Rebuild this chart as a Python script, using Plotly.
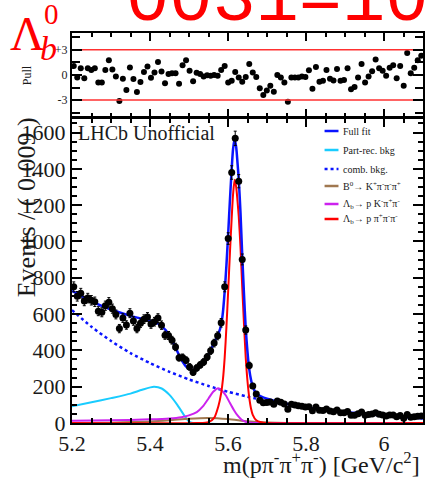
"""Lambda_b -> p pi pi pi mass fit with pull panel."""
import numpy as np
import plotly.graph_objects as go

# ---- data -------------------------------------------------------------
BIN_LO = 5.2
BIN_WIDTH = 0.009

counts = [750, 698, 715, 672, 688, 676, 668, 616, 610, 646,
          665, 630, 598, 520, 578, 540, 605, 562, 520, 550,
          572, 584, 545, 558, 578, 539, 483, 482, 456, 419,
          360, 361, 346, 309, 279, 303, 320, 336, 363, 398,
          440, 480, 552, 750, 1016, 1380, 1568, 1332, 901, 512,
          317, 204, 160, 126, 112, 113, 115, 103, 121, 114,
          104, 76, 103, 99, 95, 92, 88, 90, 68, 88,
          70, 69, 77, 66, 62, 71, 57, 56, 64, 43,
          43, 51, 60, 43, 47, 49, 56, 48, 44, 39,
          44, 44, 34, 41, 26, 47, 31, 34, 37, 39]

pulls = [1.05, -0.3, 0.8, -0.4, 0.8, 0.6, 0.8, -0.9, -0.9, 0.6,
         1.75, 0.65, -0.2, -3.1, -0.45, -1.8, 0.9, -0.5, -2.05, -0.85,
         0.35, 1.0, -0.35, 0.3, 1.55, 0.4, -1.0, 0.1, 0.2, 0.2,
         -1.05, 1.15, 1.75, 0.5, -0.75, 0.25, 0.1, -0.2, -0.05, -0.1,
         0.0, -0.1, 0.6, 1.05, -0.9, -0.7, 0.35, -0.3, -0.8, -0.25,
         1.3, 0.3, -0.25, -1.6, -2.4, -1.85, -1.3, -2.0, 0.0, -0.3,
         -0.9, -3.2, -0.3, -0.3, -0.3, -0.2, -0.25, 0.55, -1.65, 0.95,
         -0.8, -0.7, 0.6, -0.45, -0.65, 0.7, -0.7, -0.6, 0.8, -1.7,
         -1.45, -0.3, 1.3, -0.9, -0.2, 0.45, 1.85, 0.8, 0.5, -0.1,
         0.85, 1.15, -0.4, 1.05, -1.3, 2.6, 0.2, 0.85, 1.75, 2.3]

# fit components (sampled off the curves)
full_x = [5.2, 5.25, 5.3, 5.35, 5.4, 5.42, 5.44, 5.46, 5.48, 5.495, 5.51, 5.525,
          5.54, 5.555, 5.565, 5.575, 5.5825, 5.587, 5.5915, 5.596, 5.6005, 5.605,
          5.6095, 5.613, 5.617, 5.621, 5.6245, 5.6275, 5.632, 5.6365, 5.641,
          5.6455, 5.65, 5.6545, 5.659, 5.6635, 5.6725, 5.6815, 5.69, 5.7, 5.72,
          5.75, 5.8, 5.85, 5.9, 5.95, 6.0, 6.05, 6.1]
full_y = [728, 670, 625, 590, 563, 548, 512, 440, 350, 305, 292, 305,
          340, 398, 445, 490, 540, 610, 725, 870, 1045, 1230,
          1400, 1510, 1565, 1520, 1430, 1345, 1160, 925, 710,
          520, 390, 295, 238, 200, 163, 150, 141, 134, 122,
          106, 86, 72, 60, 50, 41, 33, 26]

comb_x = [5.2, 5.25, 5.3, 5.35, 5.4, 5.45, 5.5, 5.55, 5.6, 5.65, 5.7, 5.75,
          5.8, 5.85, 5.9, 5.95, 6.0, 6.05, 6.1]
comb_y = [622, 530, 452, 385, 330, 282, 240, 204, 172, 145, 122, 103,
          86, 72, 60, 50, 41, 33, 26]

partrec_x = [5.2, 5.25, 5.3, 5.35, 5.38, 5.41, 5.43, 5.45, 5.47, 5.49, 5.5, 5.51, 6.1]
partrec_y = [92, 114, 137, 162, 183, 199, 190, 155, 100, 35, 8, 0, 0]

b0_x = [5.2, 5.3, 5.4, 5.45, 5.5, 5.55, 5.6, 5.65, 5.7, 5.75, 6.1]
b0_y = [0, 2, 8, 15, 24, 28, 22, 10, 3, 0, 0]

pk_x = [5.2, 5.3, 5.4, 5.45, 5.48, 5.5, 5.52, 5.535, 5.55, 5.562, 5.575, 5.585,
        5.595, 5.605, 5.615, 5.625, 5.635, 5.645, 5.66, 5.7, 6.1]
pk_y = [12, 15, 20, 25, 32, 42, 60, 90, 135, 172, 192, 178,
        150, 110, 72, 40, 18, 7, 2, 0, 0]

sig_x = [5.2, 5.52, 5.55, 5.565, 5.575, 5.5825, 5.587, 5.5915, 5.596, 5.6005,
         5.605, 5.6095, 5.613, 5.617, 5.621, 5.6245, 5.6275, 5.632, 5.6365,
         5.641, 5.6455, 5.65, 5.6545, 5.659, 5.6635, 5.6725, 5.685, 5.7, 6.1]
sig_y = [0, 0, 5, 30, 90, 165, 240, 360, 530, 730,
         940, 1130, 1260, 1340, 1300, 1220, 1140, 970, 750,
         545, 360, 230, 140, 80, 45, 15, 4, 0, 0]

legend_labels = ['Full fit', 'Part-rec. bkg', 'comb. bkg.',
                 'B<sup>0</sup>\u2192 K<sup>+</sup>\u03c0<sup>-</sup>\u03c0<sup>-</sup>\u03c0<sup>+</sup>',
                 '\u039b<sub>b</sub>\u2192 p K<sup>-</sup>\u03c0<sup>+</sup>\u03c0<sup>-</sup>',
                 '\u039b<sub>b</sub>\u2192 p \u03c0<sup>+</sup>\u03c0<sup>-</sup>\u03c0<sup>-</sup>']

# ---- style ------------------------------------------------------------
BLUE = '#0a14ff'
CYAN = '#19ccff'
BROWN = '#a07850'
MAGENTA = '#cc22ee'
RED = '#ff0000'
SERIF = 'Liberation Serif, Times New Roman, serif'
TXT = '#1a1a1a'

W, H = 426, 479
L, R, T, B = 72, 1, 33, 56


def px(x):
    return (x - L) / (W - L - R)


def py(y):
    return (H - B - y) / (H - T - B)


centers = BIN_LO + BIN_WIDTH * (np.arange(len(counts)) + 0.5)
counts = np.array(counts)

fig = go.Figure()

curves = [
    (comb_x, comb_y, BLUE, 'dot', 2.5),
    (partrec_x, partrec_y, CYAN, 'solid', 2),
    (b0_x, b0_y, BROWN, 'solid', 2),
    (pk_x, pk_y, MAGENTA, 'solid', 2),
    (sig_x, sig_y, RED, 'solid', 2),
    (full_x, full_y, BLUE, 'solid', 2.5),
]
for cx, cy, col, dash, w in curves:
    fig.add_trace(go.Scatter(x=cx, y=cy, mode='lines',
                             line=dict(color=col, width=w, dash=dash, shape='spline', smoothing=0.7),
                             showlegend=False, hoverinfo='skip'))

fig.add_trace(go.Scatter(x=centers, y=counts, mode='markers',
                         marker=dict(color='black', size=7),
                         error_y=dict(type='data', array=np.sqrt(counts), color='black',
                                      thickness=1, width=1.5),
                         showlegend=False))

# pull panel
fig.add_trace(go.Scatter(x=centers, y=pulls, mode='markers', xaxis='x2', yaxis='y2',
                         marker=dict(color='black', size=6), showlegend=False))
for lvl in (-3, 3):
    fig.add_trace(go.Scatter(x=[BIN_LO, 6.1], y=[lvl, lvl], mode='lines', xaxis='x2', yaxis='y2',
                             line=dict(color='#ff3030', width=1.5), showlegend=False,
                             hoverinfo='skip'))

axis_common = dict(showline=True, linewidth=2, linecolor='black', mirror='allticks',
                   ticks='inside', tickcolor='black', tickwidth=1.5, showgrid=False,
                   zeroline=False)

fig.update_layout(
    width=W, height=H,
    margin=dict(l=L, r=R, t=T, b=B),
    paper_bgcolor='white', plot_bgcolor='white',
    xaxis=dict(domain=[0, 1], anchor='y', range=[5.2, 6.1], tick0=5.2, dtick=0.2, ticklen=9,
               minor=dict(dtick=0.05, ticklen=5, ticks='inside', tickcolor='black'),
               tickfont=dict(family=SERIF, size=22, color=TXT), **axis_common),
    yaxis=dict(domain=[0, 0.782], anchor='x', range=[0, 1680], dtick=200, ticklen=10,
               minor=dict(dtick=50, ticklen=5, ticks='inside', tickcolor='black'),
               tickfont=dict(family=SERIF, size=22, color=TXT), **axis_common),
    xaxis2=dict(domain=[0, 1], anchor='y2', range=[5.2, 6.1], tick0=5.2, dtick=0.2, ticklen=8,
                matches='x', showticklabels=False,
                minor=dict(dtick=0.05, ticklen=4, ticks='inside', tickcolor='black'),
                **axis_common),
    yaxis2=dict(domain=[0.785, 1], anchor='x2', range=[-5, 5], tickvals=[-3, 0, 3],
                ticktext=['-3', '0', '+3'], ticklen=10,
                minor=dict(tickvals=[-4.5, -1.5, 1.5, 4.5], ticklen=8, ticks='inside',
                           tickcolor='black'),
                tickfont=dict(family=SERIF, size=12, color=TXT), **axis_common),
)

ann = []
# big red header (cut off at the top)
ann.append(dict(text='0031=10', x=px(124), y=py(44), xanchor='left', yanchor='bottom',
                font=dict(family='Liberation Mono', size=72, color=RED)))
ann.append(dict(text='\u039b', x=px(27), y=py(33), xanchor='center', yanchor='middle',
                font=dict(family=SERIF, size=48, color=RED)))
ann.append(dict(text='0', x=px(51), y=py(14), xanchor='center', yanchor='middle',
                font=dict(family=SERIF, size=29, color=RED)))
ann.append(dict(text='<i>b</i>', x=px(48), y=py(49), xanchor='center', yanchor='middle',
                font=dict(family=SERIF, size=34, color=RED)))
# axis titles
ann.append(dict(text='Pull', x=px(27), y=py(75), textangle=-90, xanchor='center', yanchor='middle',
                font=dict(family=SERIF, size=12, color=TXT)))
ann.append(dict(text='Events / ( 0.009 )', x=px(26), y=py(207), textangle=-90,
                xanchor='center', yanchor='middle', font=dict(family=SERIF, size=26, color=TXT)))
ann.append(dict(text='m(p\u03c0<sup>-</sup>\u03c0<sup>+</sup>\u03c0<sup>-</sup>) [GeV/c<sup>2</sup>]',
                x=px(424), y=py(463), xanchor='right', yanchor='middle',
                font=dict(family=SERIF, size=24, color=TXT)))
ann.append(dict(text='LHCb Unofficial', x=px(76), y=py(133), xanchor='left', yanchor='middle',
                font=dict(family=SERIF, size=20, color=TXT)))

# hand-drawn legend
leg_y = [131, 150, 169, 186, 204, 219]
leg_style = [(BLUE, 'solid'), (CYAN, 'solid'), (BLUE, 'dot'), (BROWN, 'solid'),
             (MAGENTA, 'solid'), (RED, 'solid')]
shapes = []
for lab, yy, (col, dash) in zip(legend_labels, leg_y, leg_style):
    shapes.append(dict(type='line', xref='paper', yref='paper', x0=px(326), x1=px(340),
                       y0=py(yy), y1=py(yy), line=dict(color=col, width=2.5, dash=dash)))
    ann.append(dict(text=lab, x=px(343), y=py(yy), xanchor='left', yanchor='middle',
                    font=dict(family=SERIF, size=10, color=TXT)))

for a in ann:
    a.update(xref='paper', yref='paper', showarrow=False)
fig.update_layout(annotations=ann, shapes=shapes)

# the page body has a default 8px margin; drop it so the figure fills the window
fig.write_html('out.html', config={'displayModeBar': False},
               post_script="document.body.style.margin='0';")
